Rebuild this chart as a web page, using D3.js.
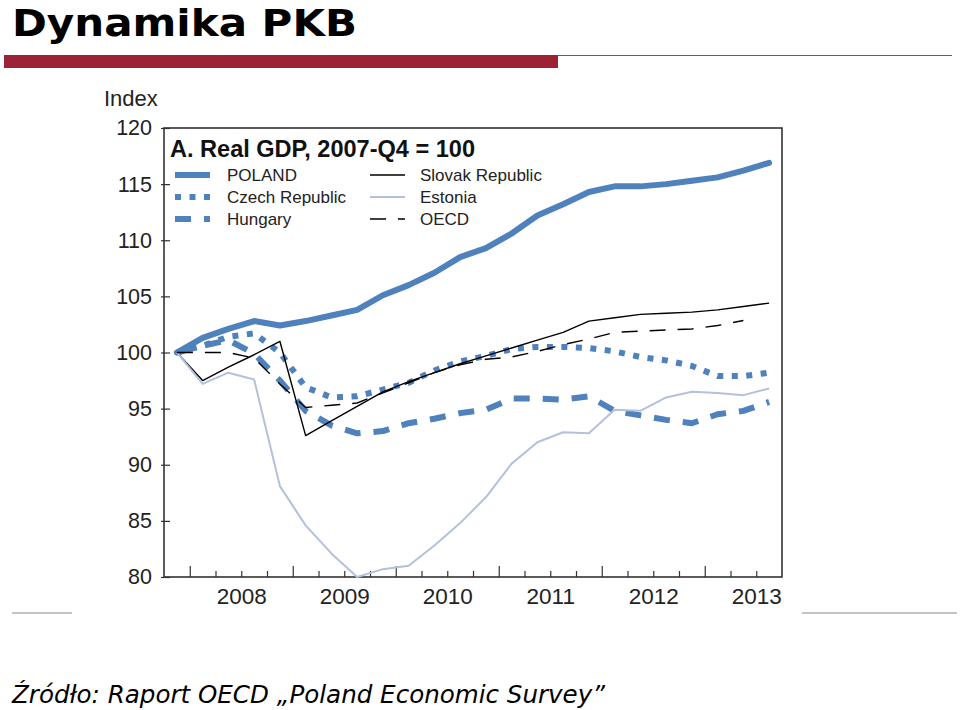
<!DOCTYPE html>
<html><head><meta charset="utf-8">
<script src="https://cdn.jsdelivr.net/npm/d3@7"></script>
<style>body{margin:0;background:#fff}svg{display:block}</style>
</head><body>
<script>
// ---- data ----
const quarters = ["2007Q4","2008Q1","2008Q2","2008Q3","2008Q4","2009Q1","2009Q2","2009Q3","2009Q4",
  "2010Q1","2010Q2","2010Q3","2010Q4","2011Q1","2011Q2","2011Q3","2011Q4",
  "2012Q1","2012Q2","2012Q3","2012Q4","2013Q1","2013Q2","2013Q3"];
const poland  = [100,101.3,102.1,102.8,102.4,102.8,103.3,103.8,105.1,106.0,107.1,108.5,109.3,110.6,112.2,113.2,114.3,114.8,114.8,115.0,115.3,115.6,116.2,116.9];
const czech   = [100,100.6,101.4,101.7,100.0,96.9,96.0,96.1,96.7,97.3,98.4,99.2,99.7,100.3,100.5,100.5,100.4,100.1,99.6,99.3,98.8,97.9,97.9,98.2];
const hungary = [100,100.6,101.1,99.9,97.5,94.8,93.5,92.8,93.0,93.7,94.1,94.6,94.9,95.9,95.9,95.8,96.1,94.8,94.4,94.0,93.7,94.5,94.8,95.6];
const slovak  = [100,97.5,98.7,99.8,101.0,92.6,93.9,95.2,96.5,97.4,98.2,99.0,99.7,100.4,101.1,101.8,102.8,103.1,103.4,103.5,103.6,103.8,104.1,104.4];
const estonia = [100,97.2,98.2,97.6,88.1,84.6,82.1,80.0,80.7,81.0,82.8,84.8,87.1,90.1,92.0,92.9,92.8,94.9,94.8,96.0,96.5,96.4,96.2,96.8];
const oecd    = [100,100.0,100.0,99.5,97.2,95.1,95.3,95.5,96.4,97.3,98.2,98.9,99.4,99.6,100.1,100.7,101.2,101.8,101.9,102.0,102.1,102.4,102.85,null];
const yTicks = [80,85,90,95,100,105,110,115,120];
const yearLabels = ["2008","2009","2010","2011","2012","2013"];
const seriesNames = ["POLAND","Czech Republic","Hungary","Slovak Republic","Estonia","OECD"];

// ---- styles ----
const BLUE = "#4f81bd";
const styles = [
  {data: poland,  color: BLUE, width: 6, dash: null, cap: "round"},
  {data: czech,   color: BLUE, width: 6, dash: "6,8.5", cap: "butt"},
  {data: hungary, color: BLUE, width: 6, dash: "16,13", cap: "butt"},
  {data: slovak,  color: "#000", width: 1.4, dash: null, cap: "butt"},
  {data: estonia, color: "#b4c1dc", width: 2, dash: null, cap: "butt"},
  {data: oecd,    color: "#000", width: 1.4, dash: "16,12", cap: "butt"}
];

const W = 960, H = 710;
const svg = d3.select("body").append("svg").attr("width", W).attr("height", H);

// slide header
svg.append("text").attr("x", 12).attr("y", 36)
  .attr("font-family", "DejaVu Sans, Verdana, sans-serif").attr("font-weight", "bold")
  .attr("font-size", 38).attr("fill", "#000")
  .attr("textLength", 345).attr("lengthAdjust", "spacingAndGlyphs")
  .text("Dynamika PKB");
svg.append("rect").attr("x", 4).attr("y", 55).attr("width", 554).attr("height", 13).attr("fill", "#9b2335");
svg.append("line").attr("x1", 558).attr("x2", 952).attr("y1", 55.5).attr("y2", 55.5)
  .attr("stroke", "#a84050").attr("stroke-width", 1.2);

// scales
const x = d3.scaleLinear().domain([0, 24]).range([164, 782]);
const y = d3.scaleLinear().domain([80, 120]).range([577, 128]);
const FONT = "Arial, 'Liberation Sans', sans-serif";

// y axis
const yAxis = svg.append("g").attr("transform", "translate(164,0)")
  .call(d3.axisLeft(y).tickValues(yTicks).tickSize(-6).tickPadding(12));
yAxis.select(".domain").remove();
yAxis.selectAll("text").attr("font-family", FONT).attr("font-size", 21.5).attr("fill", "#222");
yAxis.selectAll("line").attr("stroke", "#333").attr("stroke-width", 1.2);
yAxis.selectAll(".tick line").attr("x1", -3);

svg.append("text").attr("x", 104).attr("y", 106).attr("font-family", FONT)
  .attr("font-size", 22).attr("fill", "#222").text("Index");

// x axis: quarter ticks (minor) and year ticks (major)
const minor = d3.range(1, 24).filter(i => (i - 1) % 4 !== 0);
const major = d3.range(1, 24).filter(i => (i - 1) % 4 === 0);
const xMinor = svg.append("g").attr("transform", "translate(0,577)")
  .call(d3.axisBottom(x).tickValues(minor).tickSize(-6).tickFormat(""));
const xMajor = svg.append("g").attr("transform", "translate(0,577)")
  .call(d3.axisBottom(x).tickValues(major).tickSize(-11).tickFormat(""));
[xMinor, xMajor].forEach(g => { g.select(".domain").remove(); g.selectAll("line").attr("stroke", "#333").attr("stroke-width", 1.2); });
const xLab = svg.append("g").attr("transform", "translate(0,577)")
  .call(d3.axisBottom(x).tickValues(yearLabels.map((d, k) => 3 + 4 * k))
    .tickSize(0).tickPadding(11).tickFormat((d, k) => yearLabels[k]));
xLab.select(".domain").remove();
xLab.selectAll("text").attr("font-family", FONT).attr("font-size", 22.5).attr("fill", "#222");

// frame
svg.append("rect").attr("x", 164).attr("y", 128).attr("width", 618).attr("height", 449)
  .attr("fill", "none").attr("stroke", "#333").attr("stroke-width", 1.6);

// panel title
svg.append("text").attr("x", 170).attr("y", 157).attr("font-family", FONT)
  .attr("font-weight", "bold").attr("font-size", 23).attr("fill", "#111")
  .attr("textLength", 305).attr("lengthAdjust", "spacingAndGlyphs")
  .text("A. Real GDP, 2007-Q4 = 100");

// lines
const line = d3.line().defined(d => d != null).x((d, i) => x(i + 0.5)).y(d => y(d));
const plot = svg.append("g");
styles.forEach(s => {
  plot.append("path").attr("d", line(s.data)).attr("fill", "none")
    .attr("stroke", s.color).attr("stroke-width", s.width)
    .attr("stroke-dasharray", s.dash).attr("stroke-linecap", s.cap)
    .attr("stroke-linejoin", "round");
});

// legend
const legend = svg.append("g");
styles.forEach((s, k) => {
  const col = Math.floor(k / 3), row = k % 3;
  const lx = col === 0 ? 175 : 370, ty = 175 + row * 22;
  legend.append("line").attr("x1", lx).attr("x2", lx + 35).attr("y1", ty).attr("y2", ty)
    .attr("stroke", s.color).attr("stroke-width", s.width)
    .attr("stroke-dasharray", s.dash).attr("stroke-linecap", "butt");
  legend.append("text").attr("x", lx + (col === 0 ? 52 : 50)).attr("y", ty + 6)
    .attr("font-family", FONT).attr("font-size", 17).attr("fill", "#222").text(seriesNames[k]);
});

// bottom decorations
svg.append("line").attr("x1", 12).attr("x2", 72).attr("y1", 613).attr("y2", 613).attr("stroke", "#c4c4c4").attr("stroke-width", 2);
svg.append("line").attr("x1", 802).attr("x2", 957).attr("y1", 613).attr("y2", 613).attr("stroke", "#c4c4c4").attr("stroke-width", 2);

svg.append("text").attr("x", 12).attr("y", 703)
  .attr("font-family", "DejaVu Sans, Verdana, sans-serif").attr("font-style", "italic")
  .attr("font-size", 24).attr("fill", "#000")
  .attr("textLength", 593).attr("lengthAdjust", "spacingAndGlyphs")
  .text("Źródło: Raport OECD „Poland Economic Survey”");
</script>
</body></html>
